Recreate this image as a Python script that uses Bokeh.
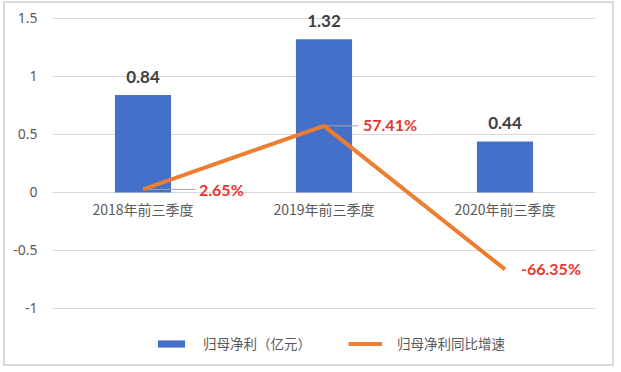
from bokeh.plotting import figure
from bokeh.models import ColumnDataSource, FixedTicker, Legend, LegendItem
from bokeh.core.properties import value
from bokeh.embed import file_html
from bokeh.resources import INLINE

categories = ["2018年前三季度", "2019年前三季度", "2020年前三季度"]
profit = [0.84, 1.32, 0.44]
growth = [0.0265, 0.5741, -0.6635]
profit_labels = ["0.84", "1.32", "0.44"]
growth_labels = ["2.65%", "57.41%", "-66.35%"]
y_ticks = [-1, -0.5, 0, 0.5, 1, 1.5]
y_tick_labels = ["-1", "-0.5", "0", "0.5", "1", "1.5"]
series_names = ["归母净利（亿元）", "归母净利同比增速"]

# style-only offsets for the growth data labels
growth_label_dx = [56, 39, 16]
growth_label_dy = [0, -1, -1]
leader_len = [0.29, 0.19, 0.0]

idx = list(range(len(categories)))
src = ColumnDataSource(dict(
    x=idx, cat=categories, profit=profit, growth=growth,
    plab=profit_labels, glab=growth_labels,
    gdx=growth_label_dx, gdy=growth_label_dy,
    lx1=[i + d for i, d in zip(idx, leader_len)],
    zero=[0] * len(idx),
))

p = figure(frame_width=543, frame_height=360,
           x_range=(-0.5, len(categories) - 0.5), y_range=(-1.483, 1.62),
           output_backend="svg", toolbar_location=None,
           min_border_left=47, min_border_right=17, min_border_top=1, min_border_bottom=0)
p.outline_line_color = None
p.background_fill_color = "white"
p.border_fill_color = "white"
p.styles = {"border": "2px solid #d9d9d9", "margin-left": "3px", "margin-top": "1px"}

p.xaxis.visible = False
p.xgrid.visible = False
p.ygrid.grid_line_color = "#d9d9d9"
p.ygrid.grid_line_width = 1
p.yaxis.ticker = FixedTicker(ticks=y_ticks)
p.yaxis.major_label_overrides = {t: l for t, l in zip(y_ticks, y_tick_labels)}
p.yaxis.axis_line_color = None
p.yaxis.major_tick_line_color = None
p.yaxis.minor_tick_line_color = None
p.yaxis.major_label_text_color = "#595959"
p.yaxis.major_label_text_font = "Noto Sans"
p.yaxis.major_label_text_font_size = "14px"
p.yaxis.major_label_standoff = 9

bars = p.vbar(x="x", top="profit", width=0.31, source=src,
              fill_color="#4470c9", line_color=None)

# category labels at the zero line
p.text(x="x", y="zero", text="cat", source=src, text_align="center", text_baseline="middle",
       y_offset=17, text_font=value("Noto Sans CJK SC"), text_font_size="14px", text_color="#595959")

# leader lines
p.segment(x0="x", y0="growth", x1="lx1", y1="growth", source=src, line_color="#a6a6a6", line_width=1)

line = p.line(x="x", y="growth", source=src, line_color="#ed7d31", line_width=4, line_join="round")

# bar value labels
p.text(x="x", y="profit", text="plab", source=src, text_align="center", text_baseline="bottom",
       y_offset=-12, text_font=value("Lato"), text_font_style="bold", text_font_size="17px",
       text_color="#404040")

# growth labels
p.text(x="x", y="growth", text="glab", source=src, text_align="left", text_baseline="middle",
       x_offset="gdx", y_offset="gdy", text_font=value("Lato"), text_font_style="bold",
       text_font_size="16px", text_color="#e8352e")

legend = Legend(items=[LegendItem(label=series_names[0], renderers=[bars]),
                       LegendItem(label=series_names[1], renderers=[line])],
                orientation="horizontal", location=(102, 11),
                label_text_font="Noto Sans CJK SC", label_text_font_size="13.5px",
                label_text_color="#595959", glyph_width=34, glyph_height=9,
                label_standoff=15, spacing=37, border_line_color=None,
                background_fill_alpha=0, padding=6)
p.add_layout(legend)

open("out.html", "w").write(file_html(p, INLINE))
